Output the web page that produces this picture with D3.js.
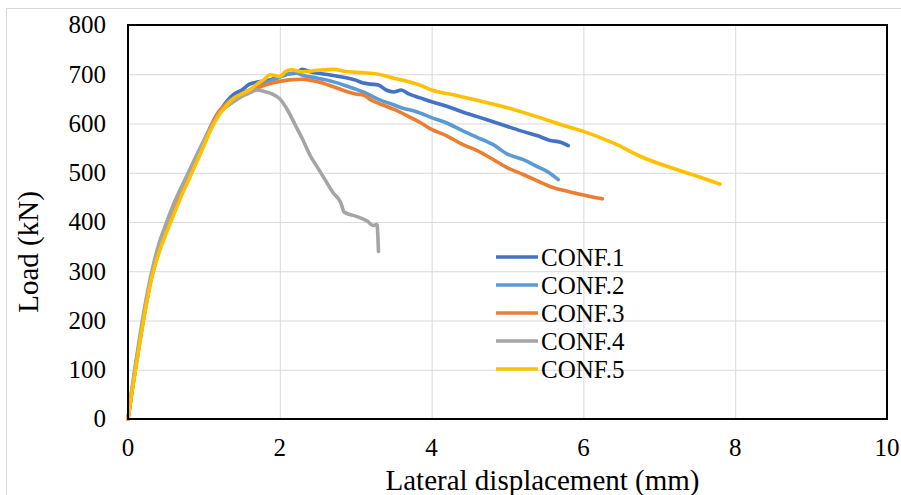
<!DOCTYPE html>
<html>
<head>
<meta charset="utf-8">
<script src="https://cdn.jsdelivr.net/npm/d3@7"></script>
<style>
  body { margin: 0; background: #fff; }
</style>
</head>
<body>
<svg id="chart" width="901" height="495"></svg>
<script>
const seriesNames = ["CONF.1", "CONF.2", "CONF.3", "CONF.4", "CONF.5"];
const seriesColors = ["#4472C4", "#5B9BD5", "#ED7D31", "#A5A5A5", "#FFC000"];

// displacement (mm), load (kN)
const conf1Disp = [0, 0.05, 0.1, 0.2, 0.3, 0.4, 0.5, 0.6, 0.7, 0.8, 0.9, 1.0, 1.1, 1.2, 1.3, 1.4, 1.5, 1.6, 1.7, 1.8, 1.9, 2.0, 2.1, 2.2, 2.3, 2.4, 2.6, 2.8, 3.0, 3.1, 3.2, 3.3, 3.4, 3.5, 3.6, 3.7, 3.85, 4.0, 4.2, 4.4, 4.6, 4.8, 5.0, 5.2, 5.4, 5.55, 5.7, 5.8];
const conf1Load = [0, 55, 105, 200, 282, 338, 382, 420, 458, 490, 527, 562, 596, 622, 645, 660, 668, 680, 684, 686, 690, 695, 700, 702, 710, 705, 700, 695, 688, 682, 680, 678, 668, 664, 668, 660, 652, 644, 635, 624, 614, 604, 594, 584, 575, 566, 562, 555];

const conf2Disp = [0, 0.05, 0.1, 0.2, 0.3, 0.4, 0.5, 0.6, 0.7, 0.8, 0.9, 1.0, 1.1, 1.2, 1.3, 1.5, 1.7, 1.9, 2.0, 2.1, 2.2, 2.3, 2.5, 2.7, 2.9, 3.1, 3.3, 3.5, 3.6, 3.8, 4.0, 4.2, 4.4, 4.6, 4.8, 5.0, 5.2, 5.4, 5.55, 5.67];
const conf2Load = [0, 55, 105, 200, 282, 338, 382, 420, 458, 490, 527, 562, 596, 622, 642, 660, 675, 688, 694, 700, 703, 698, 692, 685, 675, 664, 649, 638, 632, 624, 612, 601, 586, 572, 558, 538, 527, 512, 500, 486];

const conf3Disp = [0, 0.05, 0.1, 0.2, 0.3, 0.4, 0.5, 0.6, 0.7, 0.8, 0.9, 1.0, 1.1, 1.2, 1.3, 1.5, 1.7, 1.9, 2.1, 2.3, 2.4, 2.5, 2.7, 2.9, 3.0, 3.1, 3.2, 3.35, 3.5, 3.7, 3.85, 4.0, 4.2, 4.4, 4.6, 4.8, 5.0, 5.2, 5.4, 5.6, 5.8, 6.0, 6.25];
const conf3Load = [0, 55, 105, 200, 282, 338, 382, 420, 458, 490, 527, 562, 598, 625, 640, 660, 672, 682, 688, 690, 688, 685, 675, 664, 660, 658, 648, 638, 629, 614, 602, 588, 575, 558, 545, 528, 510, 497, 483, 470, 462, 455, 447];

const conf4Disp = [0, 0.05, 0.1, 0.2, 0.3, 0.4, 0.5, 0.6, 0.8, 1.0, 1.2, 1.4, 1.5, 1.6, 1.7, 1.8, 1.9, 2.0, 2.1, 2.2, 2.3, 2.4, 2.5, 2.6, 2.7, 2.8, 2.85, 3.0, 3.15, 3.23, 3.28, 3.3];
const conf4Load = [0, 60, 112, 210, 290, 352, 396, 436, 502, 566, 620, 645, 655, 662, 668, 665, 660, 650, 628, 598, 568, 535, 510, 485, 460, 440, 420, 412, 402, 393, 395, 340];

const conf5Disp = [0, 0.05, 0.1, 0.2, 0.3, 0.4, 0.5, 0.6, 0.7, 0.8, 0.9, 1.0, 1.1, 1.2, 1.3, 1.4, 1.5, 1.6, 1.7, 1.8, 1.87, 1.95, 2.0, 2.07, 2.15, 2.3, 2.5, 2.7, 2.9, 3.1, 3.3, 3.5, 3.7, 3.85, 4.0, 4.3, 4.6, 5.0, 5.3, 5.7, 6.0, 6.4, 6.8, 7.2, 7.5, 7.8];
const conf5Load = [0, 52, 100, 196, 278, 334, 376, 414, 452, 486, 520, 555, 590, 617, 637, 652, 660, 668, 680, 690, 699, 697, 695, 705, 709, 705, 708, 710, 705, 703, 700, 692, 685, 678, 668, 658, 647, 632, 618, 598, 584, 560, 530, 508, 493, 477];

const xTicks = [0, 2, 4, 6, 8, 10];
const yTicks = [0, 100, 200, 300, 400, 500, 600, 700, 800];

const allDisp = [conf1Disp, conf2Disp, conf3Disp, conf4Disp, conf5Disp];
const allLoad = [conf1Load, conf2Load, conf3Load, conf4Load, conf5Load];

const fontStack = "'Liberation Serif', 'Times New Roman', 'DejaVu Serif', serif";

const svg = d3.select("#chart")
  .attr("font-family", fontStack);

// outer chart frame
svg.append("rect")
  .attr("x", 6.5).attr("y", 8.5)
  .attr("width", 900).attr("height", 500)
  .attr("fill", "none")
  .attr("stroke", "#d9d9d9");

const plotLeft = 128, plotRight = 887, plotTop = 25, plotBottom = 419;

const x = d3.scaleLinear().domain([0, 10]).range([plotLeft, plotRight]);
const y = d3.scaleLinear().domain([0, 800]).range([plotBottom, plotTop]);

// grid
svg.append("g")
  .selectAll("line")
  .data(yTicks)
  .enter().append("line")
  .attr("x1", plotLeft).attr("x2", plotRight)
  .attr("y1", d => y(d) + 0.5).attr("y2", d => y(d) + 0.5)
  .attr("stroke", "#d9d9d9");

svg.append("g")
  .selectAll("line")
  .data(xTicks)
  .enter().append("line")
  .attr("y1", plotTop).attr("y2", plotBottom)
  .attr("x1", d => x(d) + 0.5).attr("x2", d => x(d) + 0.5)
  .attr("stroke", "#d9d9d9");

// series
const line = d3.line()
  .x(d => x(d[0]))
  .y(d => y(d[1]))
  .curve(d3.curveMonotoneX);

seriesNames.forEach((name, i) => {
  const pts = allDisp[i].map((d, j) => [d, allLoad[i][j]]);
  svg.append("path")
    .datum(pts)
    .attr("d", line)
    .attr("fill", "none")
    .attr("stroke", seriesColors[i])
    .attr("stroke-width", 3.6)
    .attr("stroke-linejoin", "round")
    .attr("stroke-linecap", "round");
});

// plot frame
svg.append("rect")
  .attr("x", plotLeft).attr("y", plotTop)
  .attr("width", plotRight - plotLeft).attr("height", plotBottom - plotTop)
  .attr("fill", "none")
  .attr("stroke", "#000")
  .attr("stroke-width", 2);

// tick labels
svg.append("g")
  .selectAll("text")
  .data(yTicks)
  .enter().append("text")
  .attr("x", 106)
  .attr("y", d => y(d))
  .attr("dy", "0.33em")
  .attr("text-anchor", "end")
  .attr("font-family", fontStack)
  .style("font-size", "25px")
  .text(d => d);

svg.append("g")
  .selectAll("text")
  .data(xTicks)
  .enter().append("text")
  .attr("x", d => x(d))
  .attr("y", 456)
  .attr("text-anchor", "middle")
  .attr("font-family", fontStack)
  .style("font-size", "25px")
  .text(d => d);

// axis titles
svg.append("text")
  .attr("x", (plotLeft + plotRight) / 2 + 35)
  .attr("y", 490)
  .attr("text-anchor", "middle")
  .attr("font-family", fontStack)
  .style("font-size", "29px")
  .text("Lateral displacement (mm)");

svg.append("text")
  .attr("transform", "translate(38,252) rotate(-90)")
  .attr("text-anchor", "middle")
  .attr("font-family", fontStack)
  .style("font-size", "29px")
  .text("Load (kN)");

// legend
const legend = svg.append("g");
seriesNames.forEach((name, i) => {
  const ly = 257 + i * 28;
  legend.append("line")
    .attr("x1", 496).attr("x2", 538)
    .attr("y1", ly).attr("y2", ly)
    .attr("stroke", seriesColors[i])
    .attr("stroke-width", 3.6);
  legend.append("text")
    .attr("x", 541)
    .attr("y", ly)
    .attr("dy", "0.35em")
    .attr("font-family", fontStack)
    .style("font-size", "25px")
    .text(name);
});
</script>
</body>
</html>
